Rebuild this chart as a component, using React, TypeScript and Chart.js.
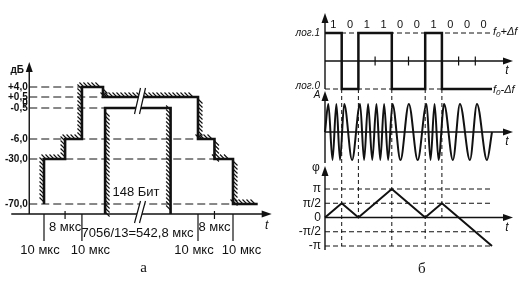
import { useEffect, useRef } from 'react';
import { Chart, LinearScale, registerables } from 'chart.js';

Chart.register(...registerables);

const W = 531;
const H = 283;

/* ---------- panel "а": burst power/time mask ---------- */
const levelDb = [4, 0.5, 0, -0.5, -6, -30, -70];
const levelLabels = ['+4,0', '+0,5', '0', '-0,5', '-6,0', '-30,0', '-70,0'];
// where each dashed level line meets the mask (NaN = no line)
const levelGuideEndUs = [-10, 0, NaN, 1, 553, 570, 570];

// upper mask: level changes at these times (μs)
const upperEdgesUs = [-28, -18, -10, 0, 553, 561, 570];
const upperLevelsDb = [-70, -30, -6, 4, 0.5, -6, -30, -70];
const upperEndUs = 582;

// lower mask
const lowerEdgesUs = [1, 540];
const lowerLevelDb = -0.5;
const floorDb = -80;

const longMarksUs = [-28, -10, 553, 570];
const longMarkLabels = ['10 мкс', '10 мкс', '10 мкс', '10 мкс'];
const shortMarksUs = [-18, 561];
const shortMarkLabels = ['8 мкс', '8 мкс'];
const burstLabel = '7056/13=542,8 мкс';
const bitsLabel = '148 Бит';
const breakUs = [17.5, 525.5];

/* ---------- panel "б": MSK bits, waveform, phase ---------- */
const bits = [1, 0, 1, 1, 0, 0, 1, 0, 0, 0];
const phaseAtBoundaryPi = [0, 0.5, 0, 0.5, 1, 0.5, 0, 0.5, 0, -0.5, -1];
const phaseTicksPi = [1, 0.5, 0, -0.5, -1];
const phaseTickLabels = ['π', 'π/2', '0', '-π/2', '-π'];
const phaseGuidesPi = [1, 0.5, -0.5, -1];
// extrema of the modulated carrier (time in bit intervals, amplitude)
const waveT = [0, 0.2, 0.45, 0.68, 0.9, 1.15, 1.62, 2.1, 2.34, 2.58, 2.83, 3.08, 3.31, 3.54, 3.78, 4.04, 4.52, 5.02, 5.55, 6.08, 6.32, 6.56, 6.8, 7.13, 7.66, 8.08, 8.68, 9.1, 9.7, 10];
const waveA = [0, 1, -1, 1, -1, 1, -1, 1, -1, 1, -1, 1, -1, 1, -1, 1, -1, 1, -1, 1, -1, 1, -1, 1, -1, 1, -1, 1, -1, 0];
// lower end (phase, ×π) of the dashed line dropped from each bit transition
const transitionGuideEndPi = [-1, 0, -1, -0.75, 0];

const ink = '#111';
const sans = "'Liberation Sans', Arial, sans-serif";
const serif = "'Liberation Serif', 'DejaVu Serif', serif";

// Linear scale whose value→pixel mapping is piecewise linear between
// [value, canvas pixel] stops: a non-uniform dB axis and a broken time axis.
class PiecewiseScale extends LinearScale {
  static id = 'piecewise';
  static defaults = {};
  getPixelForValue(value: number) {
    const stops = (this.options as any).stops as number[][];
    let i = 1;
    while (i < stops.length - 1 && value > stops[i][0]) i++;
    const [v0, p0] = stops[i - 1];
    const [v1, p1] = stops[i];
    const px = v1 === v0 ? p0 : p0 + ((value - v0) * (p1 - p0)) / (v1 - v0);
    const dec = this.isHorizontal() ? (px - this.left) / this.width : (this.bottom - px) / this.height;
    return this.getPixelForDecimal(dec);
  }
}
Chart.register(PiecewiseScale);

function spanX(v1: number, p1: number, v2: number, p2: number) {
  const k = (p2 - p1) / (v2 - v1);
  const min = v1 - p1 / k;
  return { min, max: min + W / k };
}
function spanY(v1: number, p1: number, v2: number, p2: number) {
  const k = (p1 - p2) / (v2 - v1);
  const max = v1 + p1 / k;
  return { min: max - H / k, max };
}

function line(ctx: CanvasRenderingContext2D, x1: number, y1: number, x2: number, y2: number, width = 1, dash: number[] = []) {
  ctx.save();
  ctx.lineWidth = width;
  ctx.setLineDash(dash);
  ctx.strokeStyle = ink;
  ctx.beginPath();
  ctx.moveTo(x1, y1);
  ctx.lineTo(x2, y2);
  ctx.stroke();
  ctx.restore();
}
function label(ctx: CanvasRenderingContext2D, s: string, x: number, y: number, font: string, align: CanvasTextAlign = 'center') {
  ctx.save();
  ctx.font = font;
  ctx.fillStyle = ink;
  ctx.textAlign = align;
  ctx.textBaseline = 'middle';
  ctx.fillText(s, x, y);
  ctx.restore();
}
function arrowUp(ctx: CanvasRenderingContext2D, x: number, tipY: number) {
  ctx.save();
  ctx.fillStyle = ink;
  ctx.beginPath();
  ctx.moveTo(x, tipY);
  ctx.lineTo(x - 3.5, tipY + 10);
  ctx.lineTo(x + 3.5, tipY + 10);
  ctx.closePath();
  ctx.fill();
  ctx.restore();
}
function arrowRight(ctx: CanvasRenderingContext2D, tipX: number, y: number) {
  ctx.save();
  ctx.fillStyle = ink;
  ctx.beginPath();
  ctx.moveTo(tipX, y);
  ctx.lineTo(tipX - 10, y - 3.5);
  ctx.lineTo(tipX - 10, y + 3.5);
  ctx.closePath();
  ctx.fill();
  ctx.restore();
}
function freqLabel(ctx: CanvasRenderingContext2D, sign: string, x: number, y: number) {
  ctx.save();
  ctx.fillStyle = ink;
  ctx.textBaseline = 'middle';
  ctx.textAlign = 'left';
  ctx.font = `italic 11px ${sans}`;
  ctx.fillText('f', x, y);
  let w = ctx.measureText('f').width;
  ctx.font = `italic 8px ${sans}`;
  ctx.fillText('0', x + w, y + 3);
  w += ctx.measureText('0').width;
  ctx.font = `italic 11px ${sans}`;
  ctx.fillText(sign + 'Δf', x + w, y);
  ctx.restore();
}
// 45° hatching along a polyline; side 1 = left of travel direction, -1 = right
function hatch(ctx: CanvasRenderingContext2D, pts: { x: number; y: number }[], side: number, horizontals: boolean) {
  const step = 4;
  const len = 4.5;
  ctx.save();
  ctx.strokeStyle = ink;
  ctx.lineWidth = 1.1;
  ctx.beginPath();
  for (let i = 0; i < pts.length - 1; i++) {
    const a = pts[i];
    const b = pts[i + 1];
    const dx = b.x - a.x;
    const dy = b.y - a.y;
    const L = Math.hypot(dx, dy);
    if (L < 1) continue;
    if (!horizontals && Math.abs(dy) < 0.5) continue;
    const ux = dx / L;
    const uy = dy / L;
    const nx = side * uy;
    const ny = -side * ux;
    const s = Math.sign(nx + ny) || 1;
    for (let d = 2; d < L - 1; d += step) {
      const px = a.x + ux * d;
      const py = a.y + uy * d;
      ctx.moveTo(px, py);
      ctx.lineTo(px + s * len, py + s * len);
    }
  }
  ctx.stroke();
  ctx.restore();
}
function breakMark(ctx: CanvasRenderingContext2D, x: number, yTop: number, yBot: number) {
  const gap = 5;
  const lean = 3;
  ctx.save();
  ctx.fillStyle = '#fff';
  ctx.beginPath();
  ctx.moveTo(x + lean, yTop);
  ctx.lineTo(x + lean + gap, yTop);
  ctx.lineTo(x - lean + gap, yBot);
  ctx.lineTo(x - lean, yBot);
  ctx.closePath();
  ctx.fill();
  ctx.strokeStyle = ink;
  ctx.lineWidth = 1.2;
  ctx.beginPath();
  ctx.moveTo(x + lean, yTop);
  ctx.lineTo(x - lean, yBot);
  ctx.moveTo(x + lean + gap, yTop);
  ctx.lineTo(x - lean + gap, yBot);
  ctx.stroke();
  ctx.restore();
}

const transitions = bits.map((b, i) => (i > 0 && b !== bits[i - 1] ? i : -1)).filter((i) => i > 0);
const plainBoundaries = bits.map((b, i) => (i > 0 && b === bits[i - 1] ? i : -1)).filter((i) => i > 0);

const diagramPlugin = {
  id: 'diagram',
  beforeDatasetsDraw(chart: any) {
    const ctx: CanvasRenderingContext2D = chart.ctx;
    const s = chart.scales;
    const xL = (v: number) => s.xL.getPixelForValue(v);
    const yL = (v: number) => s.yL.getPixelForValue(v);
    const xR = (v: number) => s.xR.getPixelForValue(v);
    const yB = (v: number) => s.yBit.getPixelForValue(v);
    const yA = (v: number) => s.yAmp.getPixelForValue(v);
    const yP = (v: number) => s.yPh.getPixelForValue(v);

    /* panel а */
    const axX = xL(-35);
    const axY = yL(floorDb);
    levelDb.forEach((db, i) => {
      const end = levelGuideEndUs[i];
      if (!isNaN(end)) line(ctx, axX, yL(db), xL(end), yL(db), 1, [8, 4]);
    });
    const tipY = yL(4) - 25;
    line(ctx, axX, axY, axX, tipY + 6, 1.4);
    arrowUp(ctx, axX, tipY);
    const tipX = xL(upperEndUs) + 14;
    line(ctx, axX - 18, axY, tipX - 6, axY, 1.4);
    arrowRight(ctx, tipX, axY);
    longMarksUs.forEach((t) => line(ctx, xL(t), axY, xL(t), axY + 27, 1.2));
    shortMarksUs.forEach((t) => line(ctx, xL(t), axY - 3, xL(t), axY + 5, 1.2));

    /* panel б */
    const x0 = xR(0);
    const x10 = xR(bits.length);
    [1, -1].forEach((v) => line(ctx, x0, yB(v), x10, yB(v), 1, [5, 3]));
    phaseGuidesPi.forEach((v) => line(ctx, x0, yP(v), x10, yP(v), 1, [5, 3]));
    transitions.forEach((b, i) => line(ctx, xR(b), yB(-1), xR(b), yP(transitionGuideEndPi[i]), 1, [4, 3]));

    const tTip = x10 + 21;
    // logic levels
    line(ctx, x0, yB(-1), x0, yB(1) - 14, 1.4);
    arrowUp(ctx, x0, yB(1) - 20);
    line(ctx, x0, yB(0), tTip - 6, yB(0), 1.4);
    arrowRight(ctx, tTip, yB(0));
    plainBoundaries.forEach((b) => line(ctx, xR(b), yB(0) - 4.5, xR(b), yB(0) + 4.5, 1.2));
    // waveform
    line(ctx, x0, yA(-1) + 3, x0, yA(1) - 7, 1.4);
    arrowUp(ctx, x0, yA(1) - 13);
    line(ctx, x0, yA(0), tTip - 6, yA(0), 1.4);
    arrowRight(ctx, tTip, yA(0));
    // phase
    line(ctx, x0, yP(-1) + 4, x0, yP(1) - 17, 1.4);
    arrowUp(ctx, x0, yP(1) - 23);
    line(ctx, x0, yP(0), tTip - 6, yP(0), 1.6);
    arrowRight(ctx, tTip, yP(0));
  },
  afterDatasetsDraw(chart: any) {
    const ctx: CanvasRenderingContext2D = chart.ctx;
    const s = chart.scales;
    const xL = (v: number) => s.xL.getPixelForValue(v);
    const yL = (v: number) => s.yL.getPixelForValue(v);
    const xR = (v: number) => s.xR.getPixelForValue(v);
    const yB = (v: number) => s.yBit.getPixelForValue(v);
    const yA = (v: number) => s.yAmp.getPixelForValue(v);
    const yP = (v: number) => s.yPh.getPixelForValue(v);

    /* panel а */
    hatch(ctx, chart.getDatasetMeta(0).data, 1, true);
    hatch(ctx, chart.getDatasetMeta(1).data, -1, false);
    const bx = xL(breakUs[0]) - 2.5;
    breakMark(ctx, bx, yL(0.5) - 9, yL(lowerLevelDb) + 6);
    breakMark(ctx, bx, yL(-70) - 3, yL(floorDb) + 9);

    const axX = xL(-35);
    const axY = yL(floorDb);
    const tipY = yL(4) - 25;
    levelDb.forEach((db, i) => label(ctx, levelLabels[i], axX - 1.5, yL(db), `bold 10px ${sans}`, 'right'));
    label(ctx, 'дБ', axX - 12, tipY + 8, `bold 10px ${sans}`);
    label(ctx, 't', xL(upperEndUs) + 9, axY + 12, `italic 12px ${sans}`);
    shortMarksUs.forEach((t, i) => label(ctx, shortMarkLabels[i], xL(t), axY + 13, `13px ${sans}`));
    longMarksUs.forEach((t, i) => label(ctx, longMarkLabels[i], xL(t) + (i % 2 === 0 ? -4 : 8.5), axY + 36, `13px ${sans}`));
    label(ctx, burstLabel, bx, axY + 19, `13px ${sans}`);
    label(ctx, bitsLabel, bx - 1.5, yL(-70) - 12, `13px ${sans}`);
    label(ctx, 'а', bx + 6, H - 15, `15px ${serif}`);

    /* panel б */
    const x0 = xR(0);
    const x10 = xR(bits.length);
    bits.forEach((b, i) => label(ctx, String(b), xR(i + 0.5), yB(1) - 8.5, `11px ${sans}`));
    label(ctx, 'лог.1', x0 - 5, yB(1), `italic 10px ${sans}`, 'right');
    label(ctx, 'лог.0', x0 - 5, yB(-1) - 3, `italic 10px ${sans}`, 'right');
    freqLabel(ctx, '+', x10 + 1, yB(1) - 1);
    freqLabel(ctx, '-', x10 + 1, yB(-1) + 1);
    label(ctx, 't', x10 + 15, yB(0) + 10, `italic 12px ${sans}`);
    label(ctx, 'A', x0 - 8, yA(1) - 9, `italic 10px ${sans}`);
    label(ctx, 't', x10 + 15, yA(0) + 10, `italic 12px ${sans}`);
    label(ctx, 'φ', x0 - 9, yP(1) - 21, `12px ${sans}`);
    phaseTicksPi.forEach((v, i) => label(ctx, phaseTickLabels[i], x0 - 4, yP(v), `12px ${sans}`, 'right'));
    label(ctx, 't', x10 + 15, yP(0) + 10, `italic 12px ${sans}`);
    label(ctx, 'б', xR(5.8), H - 14, `15px ${serif}`);
  },
};

function maskPoints() {
  const upper: { x: number; y: number }[] = [];
  upperEdgesUs.forEach((t, i) => {
    upper.push({ x: t, y: upperLevelsDb[i] });
    upper.push({ x: t, y: upperLevelsDb[i + 1] });
  });
  upper.push({ x: upperEndUs, y: upperLevelsDb[upperLevelsDb.length - 1] });
  const lower = [
    { x: lowerEdgesUs[0], y: floorDb },
    { x: lowerEdgesUs[0], y: lowerLevelDb },
    { x: lowerEdgesUs[1], y: lowerLevelDb },
    { x: lowerEdgesUs[1], y: floorDb },
  ];
  return { upper, lower };
}

export default function App() {
  const ref = useRef<HTMLCanvasElement>(null);
  useEffect(() => {
    const { upper, lower } = maskPoints();
    const bitPts = bits.map((b, i) => ({ x: i, y: b ? 1 : -1 }));
    bitPts.push({ x: bits.length, y: bits[bits.length - 1] ? 1 : -1 });
    const wavePts = waveT.map((t, i) => ({ x: t, y: waveA[i] }));
    const phasePts = phaseAtBoundaryPi.map((p, i) => ({ x: i, y: p }));

    const common = { pointRadius: 0, borderColor: ink, fill: false, borderJoinStyle: 'miter' as const, borderCapStyle: 'butt' as const };

    const chart = new Chart(ref.current!, {
      type: 'line',
      data: {
        datasets: [
          { ...common, data: upper, xAxisID: 'xL', yAxisID: 'yL', borderWidth: 2.6, tension: 0 },
          { ...common, data: lower, xAxisID: 'xL', yAxisID: 'yL', borderWidth: 2.6, tension: 0 },
          { ...common, data: bitPts, xAxisID: 'xR', yAxisID: 'yBit', borderWidth: 2.5, stepped: 'before' },
          { ...common, data: wavePts, xAxisID: 'xR', yAxisID: 'yAmp', borderWidth: 2, cubicInterpolationMode: 'monotone', borderJoinStyle: 'round' },
          { ...common, data: phasePts, xAxisID: 'xR', yAxisID: 'yPh', borderWidth: 2, tension: 0 },
        ],
      },
      options: {
        animation: false,
        responsive: false,
        maintainAspectRatio: false,
        devicePixelRatio: 1,
        events: [],
        layout: { padding: 0 },
        plugins: { legend: { display: false }, tooltip: { enabled: false }, title: { display: false } },
        scales: {
          xL: {
            type: 'piecewise' as any,
            display: false,
            min: -50,
            max: 600,
            stops: [[-28, 44], [0, 103], [breakUs[0], 140], [breakUs[1], 140], [553, 198], [570, 233]],
          } as any,
          yL: {
            type: 'piecewise' as any,
            display: false,
            min: floorDb,
            max: 4,
            stops: [[floorDb, 214], [-70, 204], [-30, 159], [-6, 139], [-0.5, 108], [0, 103], [0.5, 97], [4, 87]],
          } as any,
          xR: { type: 'linear', display: false, bounds: 'data', ...spanX(0, 325, 10, 492) },
          yBit: { type: 'linear', display: false, bounds: 'data', ...spanY(1, 33, -1, 89) },
          yAmp: { type: 'linear', display: false, bounds: 'data', ...spanY(1, 104, -1, 160) },
          yPh: { type: 'linear', display: false, bounds: 'data', ...spanY(1, 189, -1, 246) },
        },
      },
      plugins: [diagramPlugin],
    } as any);
    return () => chart.destroy();
  }, []);

  return (
    <div style={{ position: 'fixed', left: 0, top: 0, width: W, height: H, background: '#fff' }}>
      <canvas ref={ref} width={W} height={H} style={{ display: 'block', width: W, height: H }} />
    </div>
  );
}
